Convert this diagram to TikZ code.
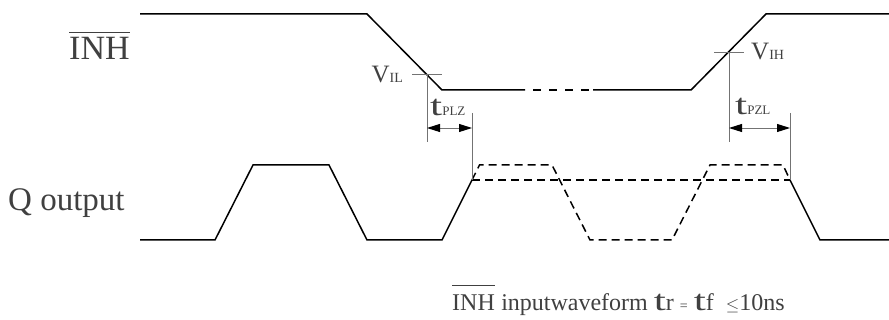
\documentclass[tikz,border=0pt]{standalone}
\usepackage{fontspec}
\setmainfont{Liberation Serif}
\usetikzlibrary{arrows.meta, positioning, calc}
\definecolor{inkgray}{gray}{0.25}
\definecolor{guidegray}{gray}{0.45}
\newcommand{\bigt}{\scalebox{1.5}[1]{\fontsize{29}{29}\selectfont t}}
\newcommand{\vlab}[1]{{\fontsize{25}{25}\selectfont V}{\fontsize{14}{14}\selectfont #1}}
\newcommand{\tlab}[1]{\bigt{\fontsize{13}{13}\selectfont #1}}
\tikzset{
  wave/.style={line width=1.5pt, black, line join=miter},
  dwave/.style={wave, dash pattern=on 8pt off 5pt},
  guide/.style={line width=0.9pt, guidegray},
  bar/.style={line width=1.3pt, inkgray},
  dim/.style={guide, {Triangle[length=13pt,width=8pt,color=black]}-{Triangle[length=13pt,width=8pt,color=black]}},
}

\begin{document}
\begin{tikzpicture}[x=1pt,y=-1pt]
\tikzstyle{sig} = [inner sep=0pt, text=inkgray, font=\fontsize{34}{34}\selectfont]
\tikzstyle{lbl} = [inner sep=0pt, text=inkgray]
\useasboundingbox (0,0) rectangle (889,320);

% INH waveform
\draw[wave] (140,14) -- (367,14) -- (442,90) -- (525,90);
\draw[wave, dash pattern=on 8pt off 8pt] (533,90) -- (590,90);
\draw[wave] (593,90) -- (691,90) -- (766,14) -- (889,14);

% Q output
\draw[wave] (140,240) -- (215,240) -- (253,165) -- (329,165) -- (367,240) -- (442,240) -- (472,180);
\draw[dwave] (472,180) -- (479.5,165) -- (552,165) -- (590,240) -- (672,240) -- (710,165) -- (783,165) -- (790,180);
\draw[dwave] (472,180) -- (790,180);
\draw[wave] (790,180) -- (820,240) -- (889,240);

% levels and delays
\coordinate (vil) at (427,74);
\coordinate (vih) at (729,52);
\coordinate (plzend) at (472,128);
\coordinate (pzlend) at (790,128);
\draw[guide] ($(vil)+(-15,0)$) -- ($(vil)+(15,0)$);
\draw[guide] (vil) -- (vil |- 0,142);
\draw[guide] (plzend |- 0,113) -- (plzend |- 0,180);
\draw[dim] (vil |- plzend) -- (plzend);
\draw[guide] ($(vih)+(-15,0)$) -- ($(vih)+(15,0)$);
\draw[guide] (vih) -- (vih |- 0,142);
\draw[guide] (pzlend |- 0,113) -- (pzlend |- 0,180);
\draw[dim] (vih |- pzlend) -- (pzlend);

\node[lbl, anchor=base east] (vilL) at (403,83) {\vlab{IL}};
\node[lbl, anchor=base west] (vihL) at (751,60) {\vlab{IH}};
\node[lbl, anchor=base west] (tplz) at (430,116) {\tlab{PLZ}};
\node[lbl, anchor=base west] (tpzl) at (735,115) {\tlab{PZL}};

\node[sig, anchor=base west] (inh) at (69,60) {INH};
\draw[bar] ($(inh.north west)+(0,-5)$) -- ($(inh.north east)+(0,-5)$);
\node[sig, anchor=base west, font=\fontsize{33}{33}\selectfont] (qout) at (8,211) {Q output};

% note under the waveforms
\node[lbl, anchor=base west, font=\fontsize{24}{24}\selectfont] (inhnote) at (452,311) {INH};
\draw[bar, line width=1pt] ($(inhnote.north west)+(0,-10)$) -- ($(inhnote.north east)+(0,-10)$);
\node[lbl, base right=6pt of inhnote, font=\fontsize{24}{24}\selectfont] (form)
  {inputwaveform {\bigt}r {\fontsize{14}{14}\selectfont =} {\bigt}f\ \ {\fontsize{16}{16}\selectfont$\leq$}10ns};
\end{tikzpicture}
\end{document}
